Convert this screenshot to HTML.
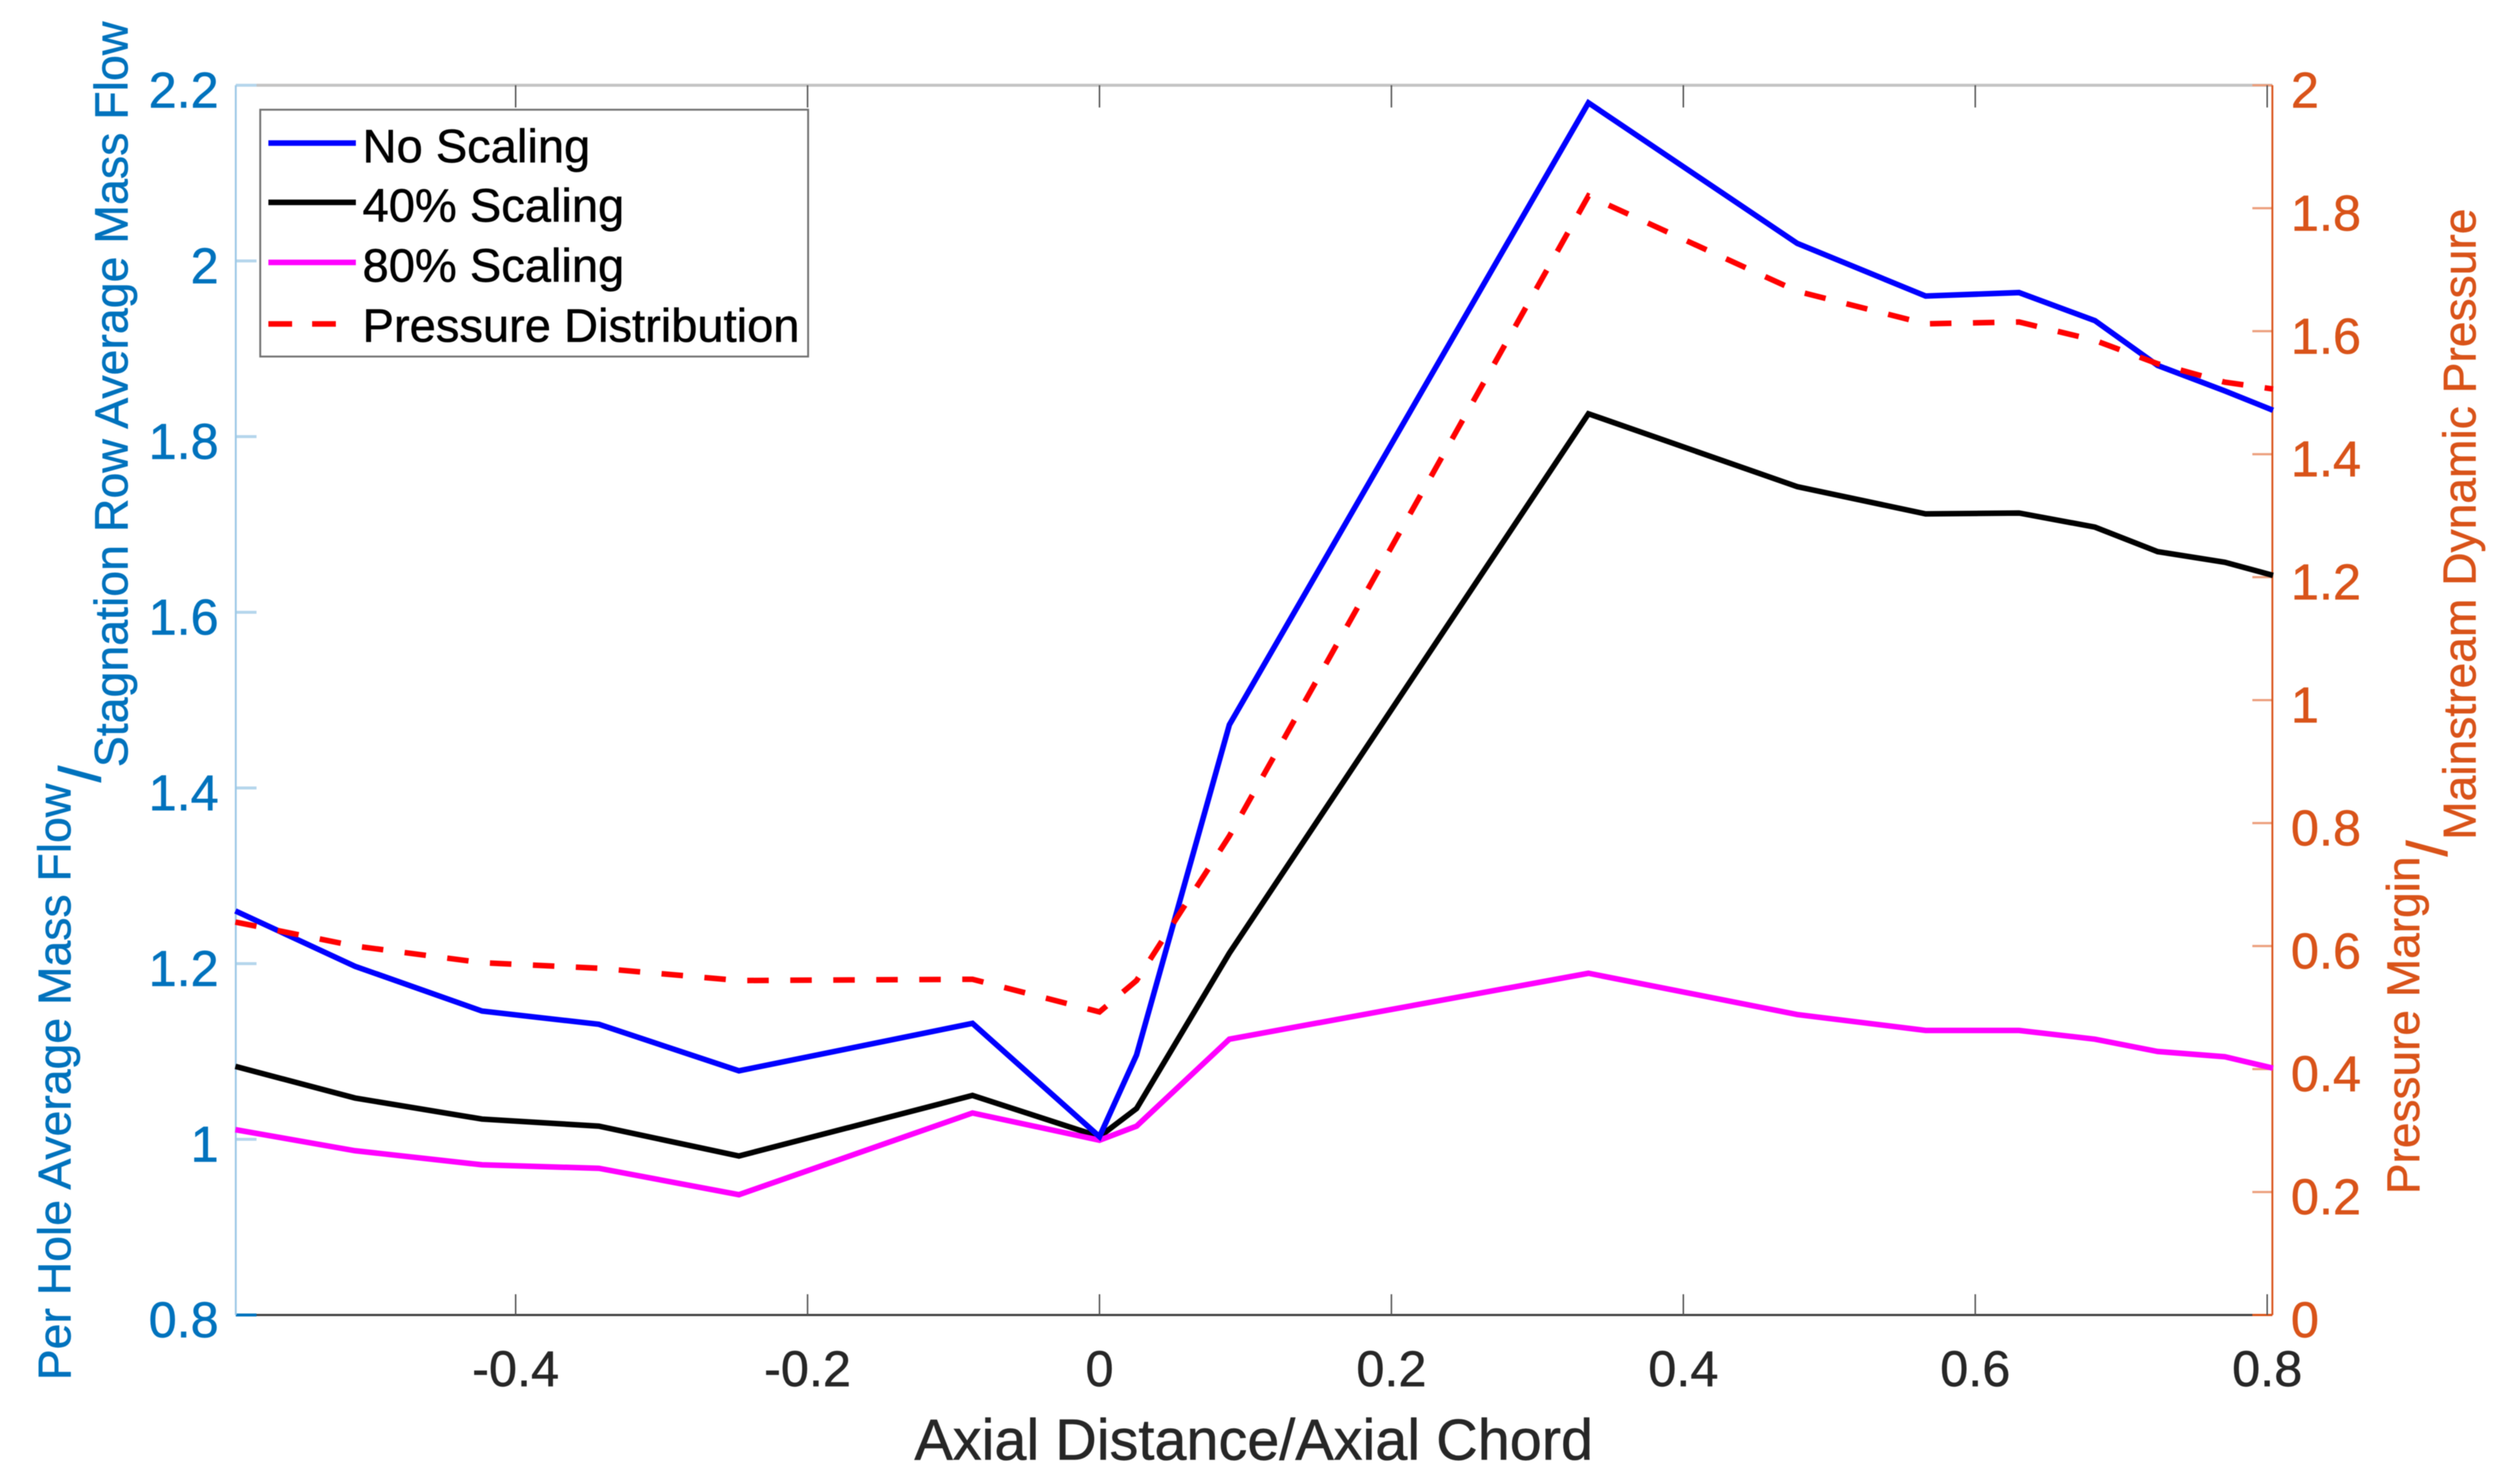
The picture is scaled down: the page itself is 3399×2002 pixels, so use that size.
<!DOCTYPE html>
<html lang="en">
<head>
<meta charset="utf-8">
<title>Mass flow and pressure margin vs axial distance</title>
<style>
  html, body { margin: 0; padding: 0; background: #ffffff; }
  svg { display: block; font-family: "Liberation Sans", Arial, sans-serif; filter: blur(0.6px); }
</style>
</head>
<body>
<svg id="chart" xmlns="http://www.w3.org/2000/svg" width="3399" height="2002" viewBox="0 0 3399 2002">
  <rect x="0" y="0" width="3399" height="2002" fill="#ffffff"/>
  <g id="axes"></g>
  <g id="series"></g>

  <text x="1691" y="1969" font-size="77.7" fill="#262626" stroke="#262626" stroke-width="0.7" text-anchor="middle">Axial Distance/Axial Chord</text>

  <g fill="#0072BD" stroke="#0072BD" stroke-width="0.7">
    <text transform="translate(95 1862) rotate(-90)" font-size="62.5">Per Hole Average Mass Flow</text>
    <text transform="translate(135 1055) rotate(-90)" font-size="78" stroke-width="1.5">/</text>
    <text transform="translate(172 1035) rotate(-90)" font-size="62.7">Stagnation Row Average Mass Flow</text>
  </g>

  <g fill="#D95319" stroke="#D95319" stroke-width="0.7">
    <text transform="translate(3263 1611) rotate(-90)" font-size="62.1">Pressure Margin</text>
    <text transform="translate(3300 1155) rotate(-90)" font-size="75" stroke-width="1.5">/</text>
    <text transform="translate(3339 1133) rotate(-90)" font-size="62.3">Mainstream Dynamic Pressure</text>
  </g>

  <g>
    <rect x="351" y="148" width="739" height="333" fill="#ffffff" stroke="#707070" stroke-width="2.5"/>
    <line x1="362" y1="193" x2="480" y2="193" stroke="#0000ff" stroke-width="7.5"/>
    <text x="489" y="219" font-size="63.5" fill="#000000" stroke="#000000" stroke-width="0.7">No Scaling</text>
    <line x1="362" y1="273" x2="480" y2="273" stroke="#000000" stroke-width="7.5"/>
    <text x="489" y="299" font-size="63.5" fill="#000000" stroke="#000000" stroke-width="0.7">40% Scaling</text>
    <line x1="362" y1="354" x2="480" y2="354" stroke="#ff00ff" stroke-width="7.5"/>
    <text x="489" y="380" font-size="63.5" fill="#000000" stroke="#000000" stroke-width="0.7">80% Scaling</text>
    <line x1="362" y1="437" x2="480" y2="437" stroke="#ff0000" stroke-width="7.5" stroke-dasharray="32 27"/>
    <text x="489" y="461" font-size="63.5" fill="#000000" stroke="#000000" stroke-width="0.7">Pressure Distribution</text>
  </g>
</svg>
<script>
const axialPositions = [-0.592, -0.51, -0.423, -0.343, -0.247, -0.087, 0, 0.0254, 0.089, 0.335, 0.478, 0.566, 0.63, 0.682, 0.725, 0.771, 0.804];
const noScaling = [1.260, 1.197, 1.146, 1.131, 1.078, 1.132, 1.003, 1.096, 1.472, 2.180, 2.020, 1.960, 1.964, 1.932, 1.881, 1.852, 1.830];
const scaling40 = [1.083, 1.047, 1.023, 1.015, 0.981, 1.050, 1.003, 1.035, 1.212, 1.826, 1.743, 1.712, 1.713, 1.697, 1.669, 1.657, 1.642];
const scaling80 = [1.011, 0.987, 0.971, 0.967, 0.937, 1.030, 0.999, 1.015, 1.114, 1.189, 1.142, 1.124, 1.124, 1.114, 1.100, 1.094, 1.081];
const pressureDistribution = [0.639, 0.600, 0.573, 0.564, 0.544, 0.546, 0.493, 0.544, 0.779, 1.820, 1.665, 1.612, 1.615, 1.585, 1.547, 1.517, 1.506];
const xTickLabels = ["-0.4", "-0.2", "0", "0.2", "0.4", "0.6", "0.8"];
const leftTickLabels = ["0.8", "1", "1.2", "1.4", "1.6", "1.8", "2", "2.2"];
const rightTickLabels = ["0", "0.2", "0.4", "0.6", "0.8", "1", "1.2", "1.4", "1.6", "1.8", "2"];

const SVG_NS = "http://www.w3.org/2000/svg";
const plotLeft = 318, plotRight = 3065, plotTop = 115, plotBottom = 1774;

function xScale(v) { return 1483 + v * 1968.75; }
function leftScale(v) { return plotBottom - (v - 0.8) * (plotBottom - plotTop) / 1.4; }
function rightScale(v) { return plotBottom - v * (plotBottom - plotTop) / 2; }

function make(tag, attrs, parent) {
  const el = document.createElementNS(SVG_NS, tag);
  for (const k in attrs) el.setAttribute(k, attrs[k]);
  parent.appendChild(el);
  return el;
}

const axes = document.getElementById("axes");
const seriesGroup = document.getElementById("series");

const topLine = make("line", { x1: plotLeft, y1: plotTop, x2: plotRight, y2: plotTop, stroke: "#c4c4c4", "stroke-width": 4 }, axes);



leftTickLabels.forEach(function (label, i) {
  const y = leftScale(parseFloat(label));
  const tick = make("line", { x1: plotLeft, y1: y, x2: plotLeft + 28, y2: y, stroke: i === 0 ? "#0072BD" : "#b5d6ec", "stroke-width": 4 }, axes);
  
  
  const text = make("text", { x: 295, y: y + 30, "font-size": 68, fill: "#0072BD", stroke: "#0072BD", "stroke-width": 0.7, "text-anchor": "end" }, axes);
  
  
  text.textContent = label;
});

rightTickLabels.forEach(function (label, i) {
  const y = rightScale(parseFloat(label));
  const tick = make("line", { x1: plotRight, y1: y, x2: plotRight - 27, y2: y, stroke: i === 0 ? "#D95319" : "#ec9f7d", "stroke-width": 3 }, axes);
  
  
  const text = make("text", { x: 3090, y: y + 30, "font-size": 68, fill: "#D95319", stroke: "#D95319", "stroke-width": 0.7 }, axes);
  
  
  text.textContent = label;
});

const bottomLine = make("line", { x1: plotLeft + 28, y1: plotBottom, x2: plotRight - 27, y2: plotBottom, stroke: "#404040", "stroke-width": 3 }, axes);



const leftLine = make("line", { x1: plotLeft, y1: plotTop, x2: plotLeft, y2: plotBottom, stroke: "#9cc8e6", "stroke-width": 2.5 }, axes);



const rightLine = make("line", { x1: plotRight, y1: plotTop, x2: plotRight, y2: plotBottom, stroke: "#D95319", "stroke-width": 2.5 }, axes);



xTickLabels.forEach(function (label) {
  const x = xScale(parseFloat(label));
  const tickBottom = make("line", { x1: x, y1: plotBottom, x2: x, y2: plotBottom - 28, stroke: "#555555", "stroke-width": 2 }, axes);
  
  
  const tickTop = make("line", { x1: x, y1: plotTop, x2: x, y2: plotTop + 30, stroke: "#555555", "stroke-width": 2 }, axes);
  
  
  const text = make("text", { x: x, y: 1870, "font-size": 68, fill: "#262626", stroke: "#262626", "stroke-width": 0.7, "text-anchor": "middle" }, axes);
  
  
  text.textContent = label;
});

function pathFrom(values, scale) {
  return values.map(function (v, i) {
    return (i ? "L" : "M") + xScale(axialPositions[i]).toFixed(1) + " " + scale(v).toFixed(1);
  }).join(" ");
}

const line40 = make("path", { d: pathFrom(scaling40, leftScale), fill: "none", stroke: "#000000", "stroke-width": 7.5, "stroke-linejoin": "miter" }, seriesGroup);



const line80 = make("path", { d: pathFrom(scaling80, leftScale), fill: "none", stroke: "#ff00ff", "stroke-width": 7.5, "stroke-linejoin": "miter" }, seriesGroup);



const lineNone = make("path", { d: pathFrom(noScaling, leftScale), fill: "none", stroke: "#0000ff", "stroke-width": 7.5, "stroke-linejoin": "miter" }, seriesGroup);



const linePressure = make("path", { d: pathFrom(pressureDistribution, rightScale), fill: "none", stroke: "#ff0000", "stroke-width": 7.5, "stroke-dasharray": "29 29", "stroke-linejoin": "miter" }, seriesGroup);


</script>
</body>
</html>
